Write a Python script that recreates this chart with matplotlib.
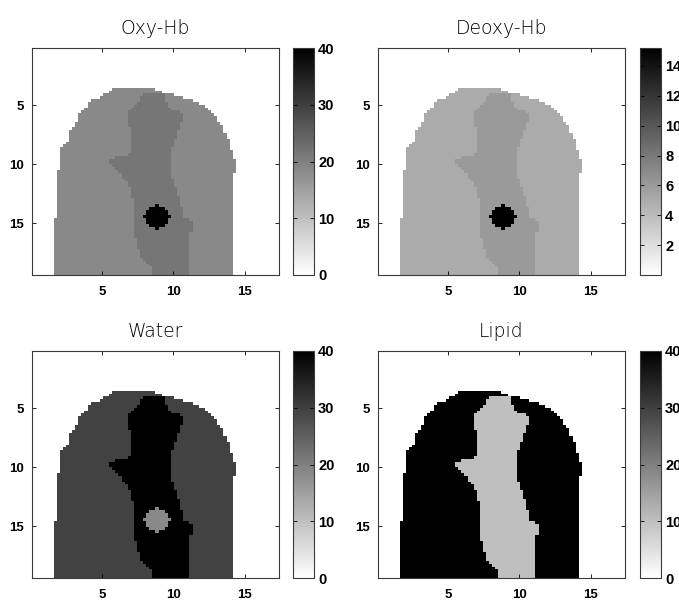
import numpy as np
import matplotlib
matplotlib.use("Agg")
import matplotlib.pyplot as plt
from matplotlib.path import Path

# ----------------------------
# data
# ----------------------------
titles = ["Oxy-Hb", "Deoxy-Hb", "Water", "Lipid"]

# region values: [outer tissue, inner strip, round inclusion]
oxy_vals = [18.5, 21.5, 40.0]
deoxy_vals = [5.0, 6.0, 15.2]
water_vals = [29.5, 40.0, 18.5]
lipid_vals = [40.0, 10.0, 10.0]
region_vals = [oxy_vals, deoxy_vals, water_vals, lipid_vals]

vmax_list = [40, 15.2, 40, 40]
cbar_ticks = [[0, 10, 20, 30, 40],
              [2, 4, 6, 8, 10, 12, 14],
              [0, 10, 20, 30, 40],
              [0, 10, 20, 30, 40]]

# outer boundary (x, y) in data units, clockwise from bottom left
outer_x = [1.7, 1.7, 1.85, 1.9, 2.0, 2.05, 2.7, 2.75, 3.2, 3.4, 3.9, 4.15, 4.9, 5.5, 5.9,
           8.3, 9.3, 10.55, 11.6, 12.3, 12.9, 13.35, 13.6, 13.95, 14.1, 14.4, 14.4, 14.15, 14.15]
outer_y = [19.5, 14.9, 13.0, 10.9, 9.9, 8.8, 8.0, 7.3, 6.5, 5.85, 5.1, 4.7, 4.3, 3.9, 3.5,
           3.5, 3.9, 4.3, 4.7, 5.1, 5.85, 6.6, 7.3, 8.1, 9.1, 9.9, 10.8, 10.9, 19.5]

# inner strip: left edge top->bottom, then right edge bottom->top
strip_left_x = [8.09, 7.74, 7.51, 6.70, 6.93, 7.05, 7.05, 5.53, 5.53, 6.12, 6.47, 6.81,
                7.05, 7.28, 7.28, 7.40, 7.74, 8.21, 8.63, 8.63]
strip_left_y = [4.0, 4.29, 4.86, 5.57, 7.13, 7.98, 9.12, 9.55, 9.97, 10.54, 11.11, 11.68,
                12.53, 13.38, 15.65, 16.79, 17.93, 18.49, 18.92, 19.5]
strip_right_x = [9.42, 9.6, 10.42, 10.81, 10.42, 10.3, 10.07, 9.84, 9.84, 9.95, 10.3, 10.53,
                 10.81, 11.35, 11.35, 11.05, 11.05, 11.12, 11.12]
strip_right_y = [4.0, 5.28, 5.57, 5.85, 6.85, 7.7, 7.98, 8.84, 10.54, 11.39, 12.24, 13.38,
                 14.52, 14.8, 15.65, 16.22, 17.93, 18.49, 19.5]

# round inclusion (centre in data units, radius in image cells)
incl_center = (8.9, 14.5)
incl_radius_cells = (4.0, 4.0)

# image grid
x_lim = (0.1, 17.4)
y_lim = (19.4, 0.17)
n_grid = 80

# ----------------------------
# build the maps
# ----------------------------
dx = (x_lim[1] - x_lim[0]) / n_grid
dy = (y_lim[0] - y_lim[1]) / n_grid
xc = x_lim[0] + dx * (np.arange(n_grid) + 0.5)
yc = y_lim[1] + dy * (np.arange(n_grid) + 0.5)
XX, YY = np.meshgrid(xc, yc)
JJ, II = np.meshgrid(np.arange(n_grid), np.arange(n_grid))
pts = np.column_stack([XX.ravel(), YY.ravel()])

outer_mask = Path(np.column_stack([outer_x, outer_y])).contains_points(pts).reshape(XX.shape)
strip_poly = np.column_stack([strip_left_x + strip_right_x[::-1],
                              strip_left_y + strip_right_y[::-1]])
strip_mask = Path(strip_poly).contains_points(pts).reshape(XX.shape) & outer_mask

ic = np.argmin(np.abs(xc - incl_center[0]))
jc = np.argmin(np.abs(yc - incl_center[1]))
incl_mask = (((JJ - ic) / incl_radius_cells[0]) ** 2 +
             ((II - jc) / incl_radius_cells[1]) ** 2) <= 1.0

# ----------------------------
# plot
# ----------------------------
plt.rcParams["font.family"] = ["Liberation Sans", "DejaVu Sans"]
fig = plt.figure(figsize=(6.79, 6.01), dpi=100)
W, H = 679, 601

ax_boxes = [(32, 48), (378, 48), (32, 351), (378, 351)]
cb_left = [293, 640, 293, 640]
ax_w, ax_h, cb_w = 247, 227, 21
edge = "#3a3a3a"

for i in range(4):
    v_out, v_in, v_inc = region_vals[i]
    img = np.zeros(XX.shape)
    img[outer_mask] = v_out
    img[strip_mask] = v_in
    img[incl_mask] = v_inc

    x0, y0 = ax_boxes[i]
    ax = fig.add_axes([x0 / W, 1 - (y0 + ax_h) / H, ax_w / W, ax_h / H])
    im = ax.imshow(img, cmap="gray_r", vmin=0, vmax=vmax_list[i], aspect="auto",
                   interpolation="nearest",
                   extent=[x_lim[0], x_lim[1], y_lim[0], y_lim[1]])
    ax.set_xlim(x_lim)
    ax.set_ylim(y_lim)
    ax.set_xticks([5, 10, 15])
    ax.set_yticks([5, 10, 15])
    ax.tick_params(direction="in", length=3, width=0.6, top=True, right=True,
                   labelsize=9.5, colors="black")
    ax.tick_params(axis="y", pad=6)
    ax.tick_params(axis="x", pad=8)
    for lab in ax.get_xticklabels() + ax.get_yticklabels():
        lab.set_fontweight("bold")
    for s in ax.spines.values():
        s.set_color(edge)
        s.set_linewidth(0.8)
    ax.set_title(titles[i], fontsize=13.5, pad=10, family="DejaVu Sans", fontweight="light")

    # colorbar labels run past the right edge in the original, kept that way
    cax = fig.add_axes([cb_left[i] / W, 1 - (y0 + ax_h) / H, cb_w / W, ax_h / H])
    cb = fig.colorbar(im, cax=cax, ticks=cbar_ticks[i])
    cb.outline.set_edgecolor(edge)
    cb.outline.set_linewidth(0.8)
    cax.tick_params(direction="in", length=3, width=0.6, left=True, right=True,
                    labelsize=10.5, pad=3)
    for lab in cax.get_yticklabels():
        lab.set_fontweight("bold")

fig.savefig("out.png", dpi=100)
